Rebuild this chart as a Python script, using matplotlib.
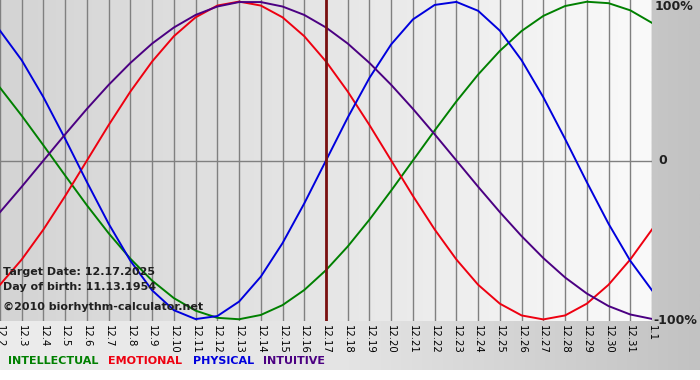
import numpy as np
import matplotlib
matplotlib.use("Agg")
import matplotlib.pyplot as plt
from matplotlib.colors import LinearSegmentedColormap

# --- Data (one value per day, 12.2 .. 1.1) ---
dates = ["12.2", "12.3", "12.4", "12.5", "12.6", "12.7", "12.8", "12.9", "12.10",
         "12.11", "12.12", "12.13", "12.14", "12.15", "12.16", "12.17", "12.18",
         "12.19", "12.20", "12.21", "12.22", "12.23", "12.24", "12.25", "12.26",
         "12.27", "12.28", "12.29", "12.30", "12.31", "1.1"]

physical = [0.817, 0.631, 0.398, 0.136, -0.136, -0.398, -0.631, -0.817, -0.942,
            -0.998, -0.979, -0.888, -0.731, -0.520, -0.270, 0.0, 0.270, 0.520,
            0.731, 0.888, 0.979, 0.998, 0.942, 0.817, 0.631, 0.398, 0.136,
            -0.136, -0.398, -0.631, -0.817]

emotional = [-0.782, -0.623, -0.434, -0.223, 0.0, 0.223, 0.434, 0.623, 0.782,
             0.901, 0.975, 1.0, 0.975, 0.901, 0.782, 0.623, 0.434, 0.223, 0.0,
             -0.223, -0.434, -0.623, -0.782, -0.901, -0.975, -1.0, -0.975,
             -0.901, -0.782, -0.623, -0.434]

intellectual = [0.458, 0.282, 0.095, -0.095, -0.282, -0.458, -0.618, -0.756,
                -0.866, -0.945, -0.990, -0.999, -0.972, -0.910, -0.815, -0.690,
                -0.541, -0.372, -0.189, 0.0, 0.189, 0.372, 0.541, 0.690, 0.815,
                0.910, 0.972, 0.999, 0.990, 0.945, 0.866]

intuitive = [-0.325, -0.165, 0.0, 0.165, 0.325, 0.476, 0.614, 0.736, 0.837,
             0.916, 0.969, 0.997, 0.997, 0.969, 0.916, 0.837, 0.736, 0.614,
             0.476, 0.325, 0.165, 0.0, -0.165, -0.325, -0.476, -0.614, -0.736,
             -0.837, -0.916, -0.969, -0.997]

target_label = "12.17"
target_date = "12.17.2025"
birth_date = "11.13.1954"

# colours
C_INT = "#008000"
C_EMO = "#ee0010"
C_PHY = "#0000dd"
C_ITU = "#4b0082"

W, H = 700, 380
fig = plt.figure(figsize=(W / 100, H / 100), dpi=100)
fig.patch.set_facecolor("white")

def fy(py):
    # pixel row from the top -> figure fraction
    return 1 - py / H

# outer gradient panel (light on the left, grey on the right)
bg = fig.add_axes([0, 10 / H, 1, 370 / H], zorder=0)
bg_cmap = LinearSegmentedColormap.from_list("bg", ["#ececec", "#e4e4e4", "#c2c2c2"])
bg.imshow(np.linspace(0, 1, 256)[None, :], aspect="auto", cmap=bg_cmap,
          extent=[0, 1, 0, 1])
bg.set_axis_off()

# plot area
x = np.arange(len(dates))
ax = fig.add_axes([0, fy(321), 652 / W, 321 / H], zorder=1)
ax.set_xlim(0, len(dates) - 1)
ax.set_ylim(-1.01, 1.01)
pa_cmap = LinearSegmentedColormap.from_list("pa", ["#d4d4d4", "#e6e6e6", "#fafafa"])
ax.imshow(np.linspace(0, 1, 256)[None, :], aspect="auto", cmap=pa_cmap,
          extent=[0, len(dates) - 1, -1.01, 1.01], zorder=0)

for xi in x:
    ax.axvline(xi, color="#808080", lw=1.0, zorder=1)
ax.axhline(0, color="#808080", lw=1.0, zorder=1)
for s in ax.spines.values():
    s.set_visible(False)

ax.plot(x, intellectual, color=C_INT, lw=1.4, zorder=3)
ax.plot(x, emotional, color=C_EMO, lw=1.4, zorder=3)
ax.plot(x, physical, color=C_PHY, lw=1.4, zorder=3)
ax.plot(x, intuitive, color=C_ITU, lw=1.4, zorder=3)

ti = dates.index(target_label)
ax.axvline(ti, color="#7a1010", lw=2.0, zorder=4)

ax.set_xticks(x)
ax.set_xticklabels(dates, rotation=270, fontsize=7.3, va="top", ha="center")
ax.tick_params(axis="x", length=0, pad=3)
ax.set_yticks([])

# info text inside the plot
info = dict(fontweight="bold", color="#202020", va="center", zorder=5)
fig.text(3 / W, fy(272), "Target Date: " + target_date, fontsize=8, **info)
fig.text(3 / W, fy(287), "Day of birth: " + birth_date, fontsize=8, **info)
fig.text(3 / W, fy(307), "\u00a92010 biorhythm-calculator.net", fontsize=8, **info)

# right-hand scale labels
scale = dict(fontsize=9, fontweight="bold", color="#202020", va="center")
fig.text(655 / W, fy(7), "100%", **scale)
fig.text(658 / W, fy(161), "0", **scale)
fig.text(653 / W, fy(321), "-100%", **scale)

# legend strip
ly = fy(361)
fig.text(8 / W, ly, "INTELLECTUAL", fontsize=8, fontweight="bold", color=C_INT, va="center")
fig.text(108 / W, ly, "EMOTIONAL", fontsize=8, fontweight="bold", color=C_EMO, va="center")
fig.text(193 / W, ly, "PHYSICAL", fontsize=8, fontweight="bold", color=C_PHY, va="center")
fig.text(263 / W, ly, "INTUITIVE", fontsize=8, fontweight="bold", color=C_ITU, va="center")

fig.savefig("out.png", dpi=100)
